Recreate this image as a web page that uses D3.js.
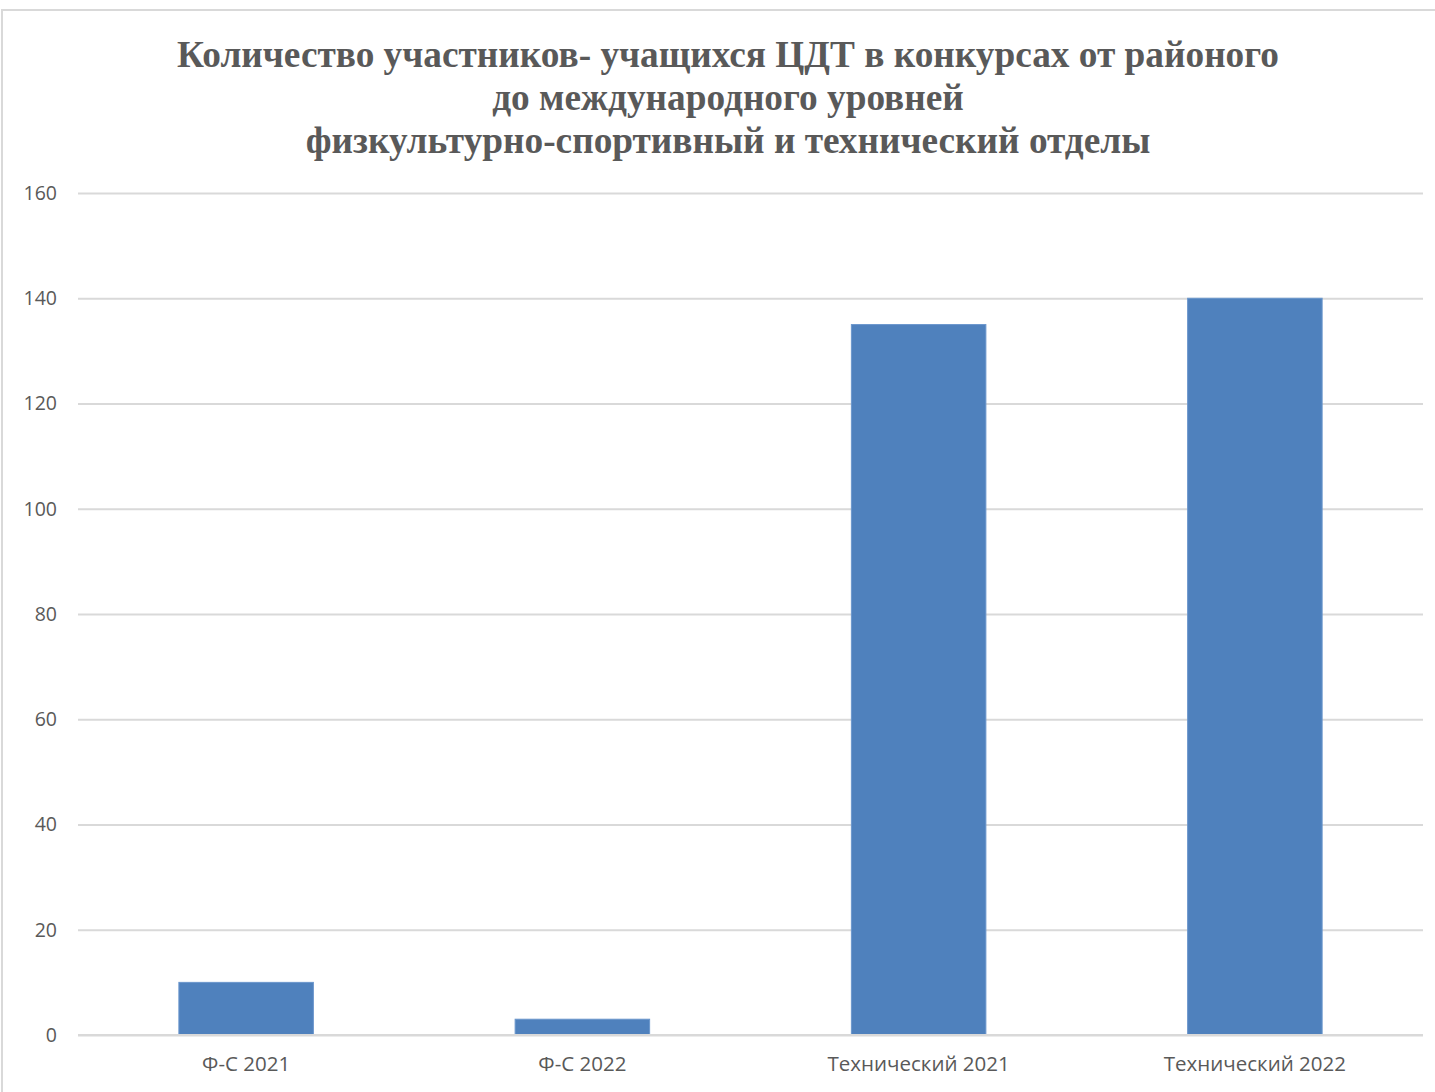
<!DOCTYPE html>
<html><head><meta charset="utf-8">
<script src="https://cdn.jsdelivr.net/npm/d3@7"></script>
<style>body{margin:0;background:#fff;}svg{display:block;}</style>
</head><body>
<svg id="c" width="1435" height="1092"></svg>
<script>
const categories = ["Ф-С 2021", "Ф-С 2022", "Технический 2021", "Технический 2022"];
const values = [10, 3, 135, 140];
const yTicks = [0, 20, 40, 60, 80, 100, 120, 140, 160];
const titleLines = ["Количество участников- учащихся ЦДТ в конкурсах от районого", "до международного уровней", "физкультурно-спортивный и технический отделы"];

const svg = d3.select("#c");
svg.append("rect").attr("x",2).attr("y",10).attr("width",1440).attr("height",1100)
  .attr("fill","#fff").attr("stroke","#d9d9d9").attr("stroke-width",2);

const x = d3.scaleBand().domain(categories).range([78,1423]).paddingInner(0.6).paddingOuter(0.3);
const y = d3.scaleLinear().domain([0,160]).range([1035,193]);

const yAxis = svg.append("g").attr("transform","translate(78,0)")
  .call(d3.axisLeft(y).tickValues(yTicks).tickSize(-1345).tickPadding(21).tickFormat(d3.format("d")));
yAxis.select(".domain").remove();
yAxis.selectAll(".tick line").attr("stroke","#d9d9d9").attr("stroke-width",2);
yAxis.selectAll(".tick text").attr("fill","#595959").style("font-family","'Open Sans', sans-serif").style("font-size","19.5px");

svg.selectAll("rect.bar").data(values).join("rect").attr("class","bar")
  .attr("x",(d,i)=>x(categories[i])).attr("width",x.bandwidth())
  .attr("y",d=>y(d)).attr("height",d=>y(0)-y(d))
  .attr("fill","#4f81bd").attr("stroke","#6a96cc").attr("stroke-width",1);

const xAxis = svg.append("g").attr("transform","translate(0,1035)")
  .call(d3.axisBottom(x).tickSize(0).tickPadding(21));
xAxis.select(".domain").attr("stroke","#d9d9d9").attr("stroke-width",2).attr("d","M78,0H1423");
xAxis.selectAll(".tick text").attr("fill","#595959").style("font-family","'Open Sans', sans-serif").style("font-size","20.5px");

svg.append("g").selectAll("text").data(titleLines).join("text")
  .attr("x",728).attr("y",(d,i)=>67+i*43).attr("text-anchor","middle")
  .attr("fill","#595959").style("font-family","'Liberation Serif','Times New Roman',serif")
  .style("font-weight","bold").style("font-size","37.3px").text(d=>d);
</script>
</body></html>
